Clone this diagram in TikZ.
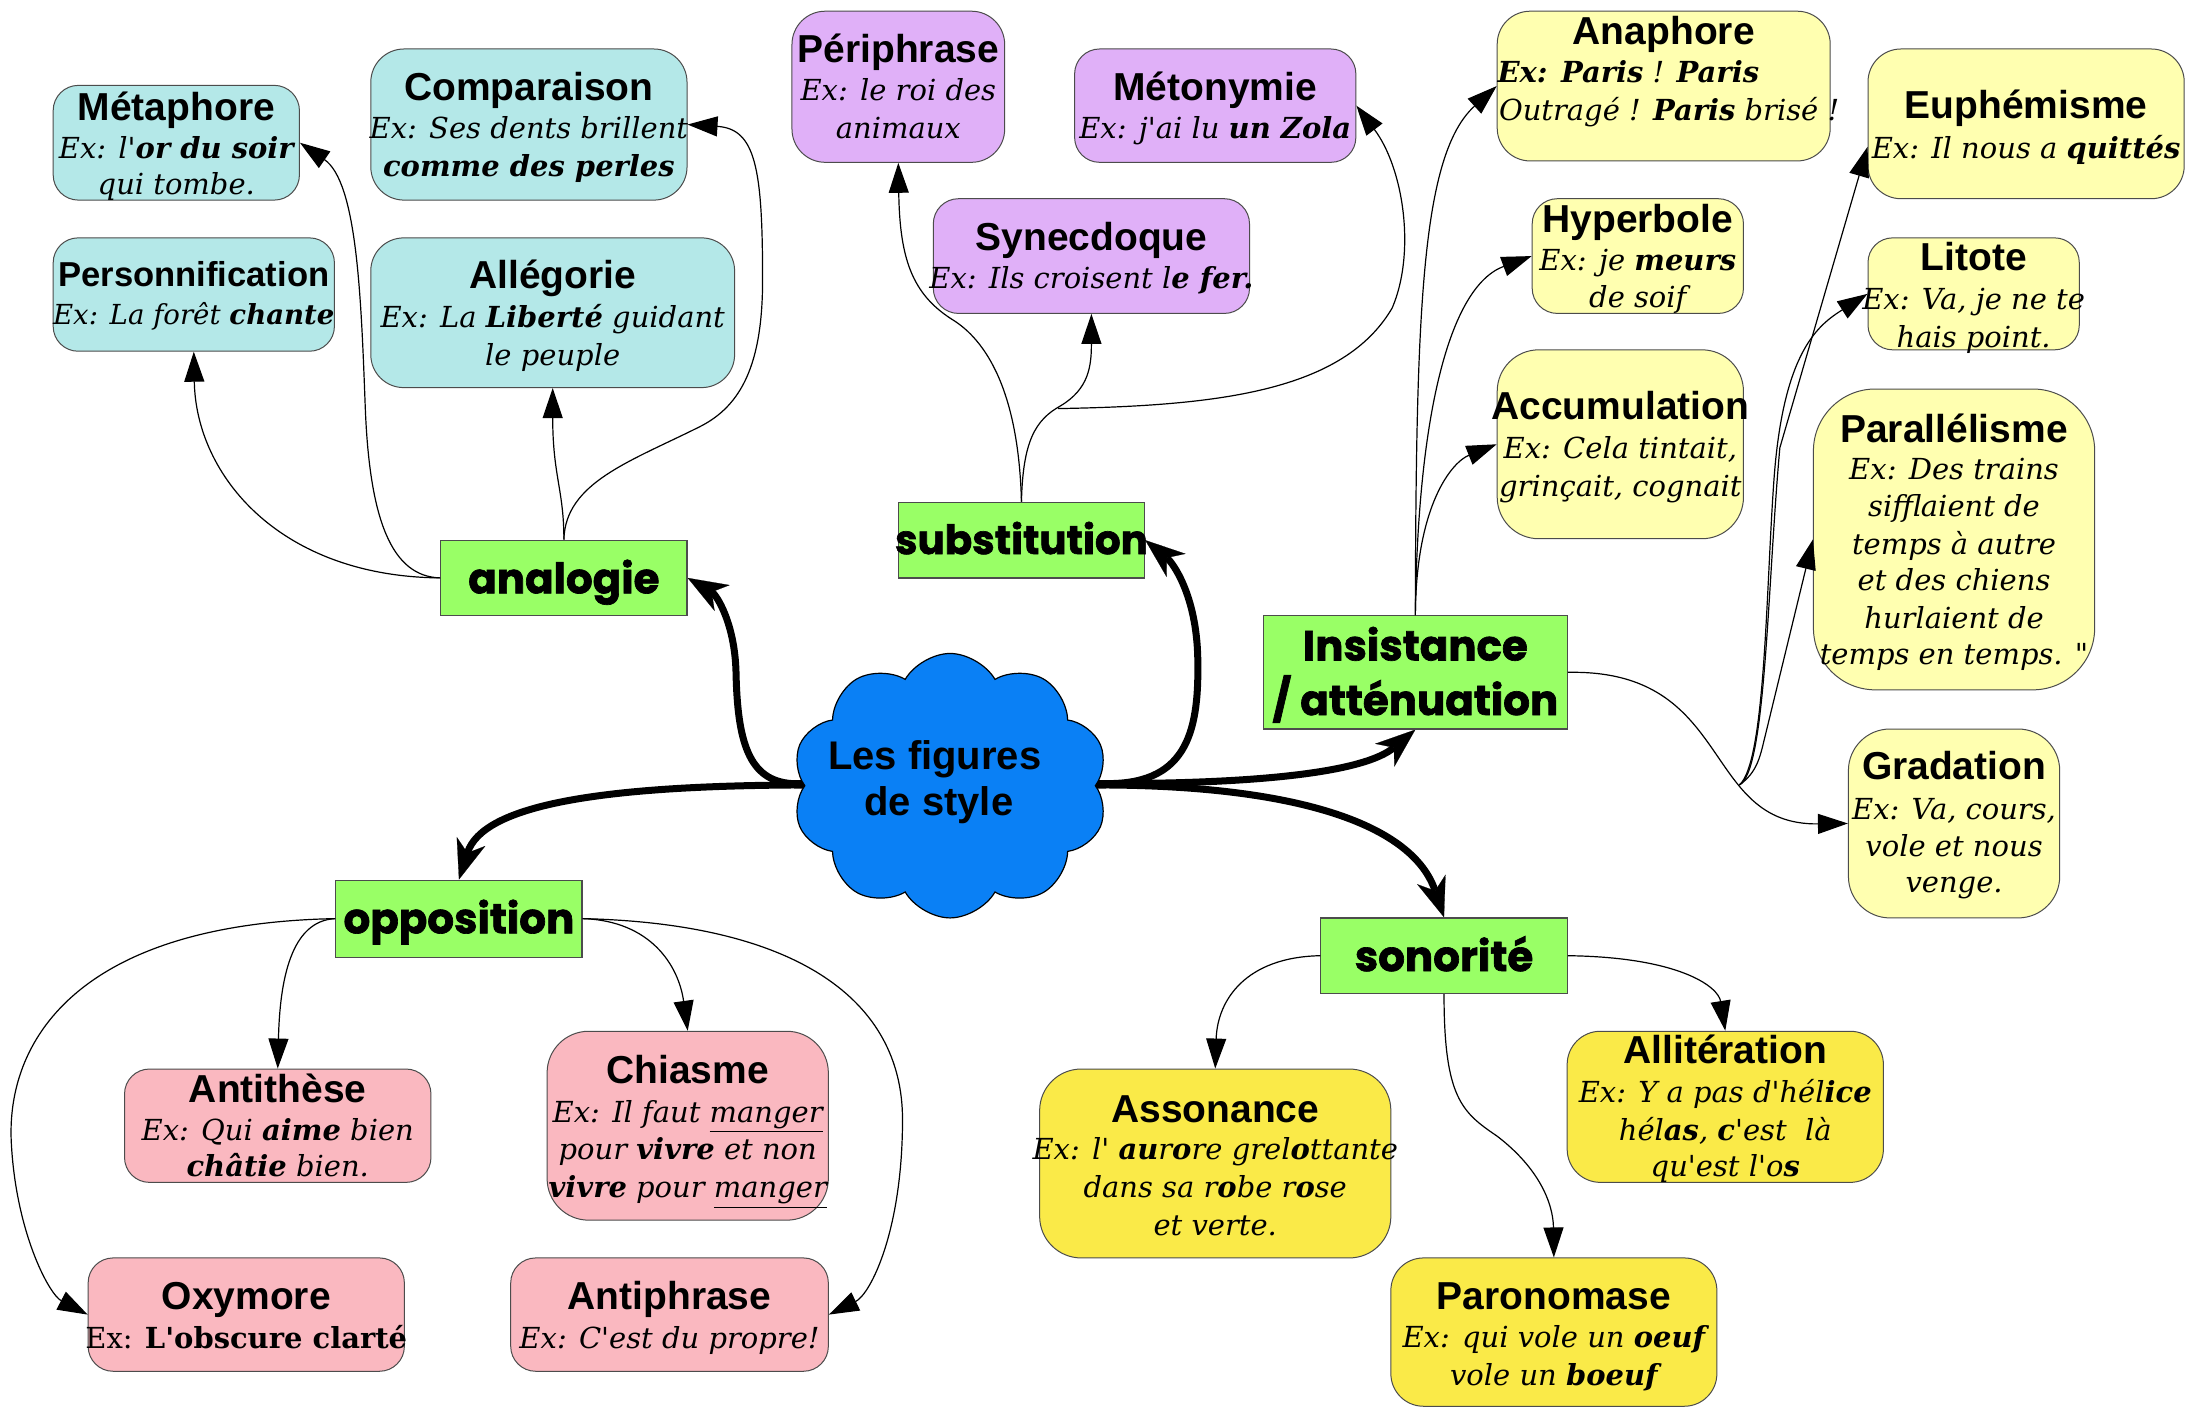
\documentclass[tikz,border=0pt]{standalone}
\usepackage{fontspec}
\newfontfamily\titlefont{Liberation Sans}
\newfontfamily\exfont{DejaVu Serif}
\newfontfamily\catfont{Poppins}[BoldFeatures={FakeBold=1.6}]
\usetikzlibrary{arrows.meta,shapes.symbols,backgrounds}
\definecolor{cyanbox}{RGB}{180,232,232}
\definecolor{lavbox}{RGB}{224,176,248}
\definecolor{lyelbox}{RGB}{255,255,176}
\definecolor{yelbox}{RGB}{250,234,72}
\definecolor{pinkbox}{RGB}{250,184,192}
\definecolor{catgreen}{RGB}{153,255,102}
\definecolor{cloudblue}{RGB}{10,128,245}
\newcommand\figbox[6]{%
  \pgfmathsetmacro\bxw{#4-#2}%
  \pgfmathsetmacro\bxh{#5-#3}%
  \pgfmathsetmacro\bxr{0.7*0.22*min(\bxw,\bxh)}%
  \node[figsty, fill=#6, rounded corners=\bxr pt, minimum width=\bxw*0.7pt, minimum height=\bxh*0.7pt] (#1) at ({(#2+#4)/2},{(#3+#5)/2}) {};}
\newcommand\catbox[5]{%
  \pgfmathsetmacro\bxw{#4-#2}%
  \pgfmathsetmacro\bxh{#5-#3}%
  \node[catsty, minimum width=\bxw*0.7pt, minimum height=\bxh*0.7pt] (#1) at ({(#2+#4)/2},{(#3+#5)/2}) {};}
\newcommand\tline[4]{\node[ttlsty] (#1) at (#2,#3) {#4};}
\newcommand\eline[4]{\node[exsty] (#1) at (#2,#3) {#4};}
\begin{document}
\begin{tikzpicture}[x=0.7pt,y=-0.7pt,
  figsty/.style={rectangle, draw=black!70, line width=0.5pt, inner sep=0pt},
  catsty/.style={rectangle, draw=black!70, line width=0.6pt, fill=catgreen, inner sep=0pt},
  ttlsty/.style={anchor=base, inner sep=0pt, font=\titlefont\bfseries\fontsize{19.5}{23}\selectfont},
  exsty/.style={anchor=base, inner sep=0pt, font=\exfont\itshape\fontsize{14.5}{18}\selectfont},
  catlbl/.style={anchor=base, inner sep=0pt, font=\catfont\bfseries\fontsize{21}{25}\selectfont},
  cloudlbl/.style={anchor=base, inner sep=0pt, font=\titlefont\bfseries\fontsize{20}{24}\selectfont},
  thinarrow/.style={line width=0.6pt, -{Triangle[length=15pt,width=10pt]}},
  thickarrow/.style={line width=3.5pt, -{Stealth[length=20pt,width=15pt,inset=6pt,line width=0.1pt]}}
]
\useasboundingbox (0,0) rectangle (1568,1006);

% ---------- analogie group ----------
\figbox{metaphore}{38}{61}{214}{143}{cyanbox}
\tline{metaphore-t}{126}{86}{Métaphore}
\eline{metaphore-1}{126}{113}{Ex: l'\textbf{or du soir}}
\eline{metaphore-2}{126}{139}{qui tombe.}

\figbox{comparaison}{265}{35}{491}{143}{cyanbox}
\tline{comparaison-t}{378}{72}{Comparaison}
\eline{comparaison-1}{378}{99}{Ex: Ses dents brillent}
\eline{comparaison-2}{378}{126}{\textbf{comme des perles}}

\figbox{personnif}{38}{170}{239}{251}{cyanbox}
\node[ttlsty, font=\titlefont\bfseries\fontsize{17.3}{21}\selectfont] (personnif-t) at (138.5,205) {Personnification};
\node[exsty, font=\exfont\itshape\fontsize{13.8}{17}\selectfont] (personnif-1) at (138.5,232) {Ex: La forêt \textbf{chante}};

\figbox{allegorie}{265}{170}{525}{277}{cyanbox}
\tline{allegorie-t}{395}{206}{Allégorie}
\eline{allegorie-1}{395}{234}{Ex: La \textbf{Liberté} guidant}
\eline{allegorie-2}{395}{261}{le peuple}

% ---------- substitution group ----------
\figbox{periphrase}{566}{8}{718}{116}{lavbox}
\tline{periphrase-t}{642}{45}{Périphrase}
\eline{periphrase-1}{642}{72}{Ex: le roi des}
\eline{periphrase-2}{642}{99}{animaux}

\figbox{metonymie}{768}{35}{969}{116}{lavbox}
\tline{metonymie-t}{868.5}{72}{Métonymie}
\eline{metonymie-1}{868.5}{99}{Ex: j'ai lu \textbf{un Zola}}

\figbox{synecdoque}{667}{142}{893}{224}{lavbox}
\tline{synecdoque-t}{780}{179}{Synecdoque}
\eline{synecdoque-1}{780}{206}{Ex: Ils croisent l\textbf{e fer.}}

% ---------- insistance group ----------
\figbox{anaphore}{1070}{8}{1308}{115}{lyelbox}
\tline{anaphore-t}{1189}{32}{Anaphore}
\node[exsty, anchor=base west] (anaphore-1) at (1070,59) {\textbf{Ex: Paris} ! \textbf{Paris}};
\node[exsty, anchor=base west] (anaphore-2) at (1071,86) {Outragé ! \textbf{Paris} brisé !};

\figbox{hyperbole}{1095}{142}{1246}{224}{lyelbox}
\tline{hyperbole-t}{1170.5}{166}{Hyperbole}
\eline{hyperbole-1}{1170.5}{193}{Ex: je \textbf{meurs}}
\eline{hyperbole-2}{1170.5}{220}{de soif}

\figbox{accumulation}{1070}{250}{1246}{385}{lyelbox}
\tline{accumulation-t}{1158}{300}{Accumulation}
\eline{accumulation-1}{1158}{328}{Ex: Cela tintait,}
\eline{accumulation-2}{1158}{355}{grinçait, cognait}

\figbox{euphemisme}{1335}{35}{1561}{142}{lyelbox}
\tline{euphemisme-t}{1448}{85}{Euphémisme}
\eline{euphemisme-1}{1448}{113}{Ex: Il nous a \textbf{quittés}}

\figbox{litote}{1335}{170}{1486}{250}{lyelbox}
\tline{litote-t}{1410.5}{193}{Litote}
\eline{litote-1}{1410.5}{221}{Ex: Va, je ne te}
\eline{litote-2}{1410.5}{248}{hais point.}

\figbox{parallelisme}{1296}{278}{1497}{493}{lyelbox}
\tline{parallelisme-t}{1396.5}{316}{Parallélisme}
\eline{parallelisme-1}{1396.5}{343}{Ex: Des trains}
\eline{parallelisme-2}{1396.5}{369}{sifflaient de}
\eline{parallelisme-3}{1396.5}{396}{temps à autre}
\eline{parallelisme-4}{1396.5}{422}{et des chiens}
\eline{parallelisme-5}{1396.5}{449}{hurlaient de}
\eline{parallelisme-6}{1396.5}{475}{temps en temps. "}

\figbox{gradation}{1321}{521}{1472}{656}{lyelbox}
\tline{gradation-t}{1396.5}{557}{Gradation}
\eline{gradation-1}{1396.5}{586}{Ex: Va, cours,}
\eline{gradation-2}{1396.5}{612}{vole et nous}
\eline{gradation-3}{1396.5}{638}{venge.}

% ---------- opposition group ----------
\figbox{antithese}{89}{764}{308}{845}{pinkbox}
\tline{antithese-t}{198.5}{788}{Antithèse}
\eline{antithese-1}{198.5}{815}{Ex: Qui \textbf{aime} bien}
\eline{antithese-2}{198.5}{841}{\textbf{châtie} bien.}

\figbox{chiasme}{391}{737}{592}{872}{pinkbox}
\tline{chiasme-t}{491.5}{774}{Chiasme}
\eline{chiasme-1}{491.5}{802}{Ex: Il faut \underline{manger}}
\eline{chiasme-2}{491.5}{829}{pour \textbf{vivre} et non}
\eline{chiasme-3}{491.5}{856}{\textbf{vivre} pour \underline{manger}}

\figbox{oxymore}{63}{899}{289}{980}{pinkbox}
\tline{oxymore-t}{176}{936}{Oxymore}
\eline{oxymore-1}{176}{964}{\upshape Ex: \textbf{L'obscure clarté}}

\figbox{antiphrase}{365}{899}{592}{980}{pinkbox}
\tline{antiphrase-t}{478.5}{936}{Antiphrase}
\eline{antiphrase-1}{478.5}{964}{Ex: C'est du propre!}

% ---------- sonorite group ----------
\figbox{assonance}{743}{764}{994}{899}{yelbox}
\tline{assonance-t}{868.5}{802}{Assonance}
\eline{assonance-1}{868.5}{829}{Ex: l' \textbf{au}r\textbf{o}re grel\textbf{o}ttante}
\eline{assonance-2}{868.5}{856}{dans sa r\textbf{o}be r\textbf{o}se}
\eline{assonance-3}{868.5}{883}{et verte.}

\figbox{alliteration}{1120}{737}{1346}{845}{yelbox}
\tline{alliteration-t}{1233}{760}{Allitération}
\eline{alliteration-1}{1233}{788}{Ex: Y a pas d'hél\textbf{ice}}
\eline{alliteration-2}{1233}{815}{hél\textbf{as}, \textbf{c}'est~~là}
\eline{alliteration-3}{1233}{841}{qu'est l'o\textbf{s}}

\figbox{paronomase}{994}{899}{1227}{1005}{yelbox}
\tline{paronomase-t}{1110.5}{936}{Paronomase}
\eline{paronomase-1}{1110.5}{963}{Ex: qui vole un \textbf{oeuf}}
\eline{paronomase-2}{1110.5}{990}{vole un \textbf{boeuf}}

% ---------- category boxes ----------
\catbox{analogie}{315}{386}{491}{440}
\node[catlbl] (analogie-t) at (403,424) {analogie};
\catbox{substitution}{642}{359}{818}{413}
\node[catlbl, font=\catfont\bfseries\fontsize{20.2}{25}\selectfont] (substitution-t) at (730,396) {substitution};
\catbox{insistance}{903}{440}{1120}{521}
\node[catlbl] (insistance-t1) at (1011.5,472) {Insistance};
\node[catlbl] (insistance-t2) at (1011.5,511) {/ atténuation};
\catbox{opposition}{240}{629}{416}{684}
\node[catlbl] (opposition-t) at (328,667) {opposition};
\catbox{sonorite}{944}{656}{1120}{710}
\node[catlbl] (sonorite-t) at (1032,694) {sonorité};

% ---------- central cloud ----------
\node[cloud, cloud puffs=10, cloud puff arc=120, aspect=1.15, draw=black, line width=0.6pt,
  fill=cloudblue, minimum width=226*0.7pt, minimum height=189*0.7pt, inner sep=0pt] (cloud) at (679,561.5) {};
\node[cloudlbl] (cloud-t1) at (668,550) {Les figures};
\node[cloudlbl] (cloud-t2) at (671,583) {de style};

% ---------- thin connectors ----------
\draw[thinarrow] (analogie.west) .. controls (200,412) and (140,340) .. (personnif.south);
\draw[thinarrow] (analogie.west) .. controls (280,412) and (264,372) .. (261,290) .. controls (258,210) and (255,130) .. (metaphore.east);
\draw[thinarrow] (analogie.north) .. controls (403,350) and (395,340) .. (allegorie.south);
\draw[thinarrow] (analogie.north) .. controls (404,345) and (450,330) .. (500,305) .. controls (530,290) and (545,260) .. (545,200) .. controls (545,120) and (540,92) .. (comparaison.east);

\draw[thinarrow] (substitution.north) .. controls (728,280) and (705,243) .. (680,228) .. controls (652,210) and (643,185) .. (periphrase.south);
\draw[thinarrow] (substitution.north) .. controls (731,315) and (740,300) .. (758,290) .. controls (778,278) and (780,262) .. (synecdoque.south);
\coordinate (subbranch) at (756,292);
\draw[thinarrow] (subbranch) .. controls (870,290) and (960,280) .. (995,220) .. controls (1012,180) and (1003,120) .. (metonymie.east);

\draw[thinarrow] (insistance.north) .. controls (1012,220) and (1016,110) .. (anaphore.west);
\draw[thinarrow] (insistance.north) .. controls (1013,300) and (1035,205) .. (hyperbole.west);
\draw[thinarrow] (insistance.north) .. controls (1012,360) and (1038,330) .. (accumulation.west);
\draw[thinarrow] (insistance.east) .. controls (1240,478) and (1215,590) .. (gradation.west);
\coordinate (insbranch) at (1243,561);
\draw[thinarrow] (insbranch) .. controls (1262,552) and (1263,420) .. (1272,320) -- ([yshift=-11.5pt]euphemisme.west);
\draw[thinarrow] (insbranch) .. controls (1262,545) and (1262,420) .. (1268,340) .. controls (1275,250) and (1300,232) .. (litote.west);
\draw[thinarrow] (insbranch) .. controls (1256,552) and (1258,540) .. (1261,528) -- (parallelisme.west);

\draw[thinarrow] (opposition.west) .. controls (60,660) and (5,740) .. (8,815) .. controls (11,880) and (35,925) .. (oxymore.west);
\draw[thinarrow] (opposition.west) .. controls (208,658) and (200,700) .. (antithese.north);
\draw[thinarrow] (opposition.east) .. controls (465,658) and (485,690) .. (chiasme.north);
\draw[thinarrow] (opposition.east) .. controls (570,660) and (645,715) .. (645,800) .. controls (645,880) and (622,925) .. (antiphrase.east);

\draw[thinarrow] (sonorite.west) .. controls (890,684) and (870,715) .. (assonance.north);
\draw[thinarrow] (sonorite.south) .. controls (1032,785) and (1045,795) .. (1070,812) .. controls (1100,835) and (1110,860) .. (paronomase.north);
\draw[thinarrow] (sonorite.east) .. controls (1200,684) and (1228,705) .. (alliteration.north);

% ---------- thick connectors (behind the cloud) ----------
\begin{pgfonlayer}{background}
\fill[white] (0,0) rectangle (1568,1006);
\draw[thickarrow] (cloud.center) -- (566,561) .. controls (430,562) and (345,575) .. (opposition.north);
\draw[thickarrow] (cloud.center) -- (566,560) .. controls (535,558) and (527,530) .. (526,480) .. controls (525,445) and (512,425) .. (analogie.east);
\draw[thickarrow] (cloud.center) -- (792,560) .. controls (850,560) and (857,520) .. (856,470) .. controls (855,425) and (838,402) .. (substitution.east);
\draw[thickarrow] (cloud.center) -- (792,560) .. controls (900,560) and (975,552) .. (insistance.south);
\draw[thickarrow] (cloud.center) -- (792,561) .. controls (930,562) and (1010,590) .. (sonorite.north);
\end{pgfonlayer}
\end{tikzpicture}
\end{document}
